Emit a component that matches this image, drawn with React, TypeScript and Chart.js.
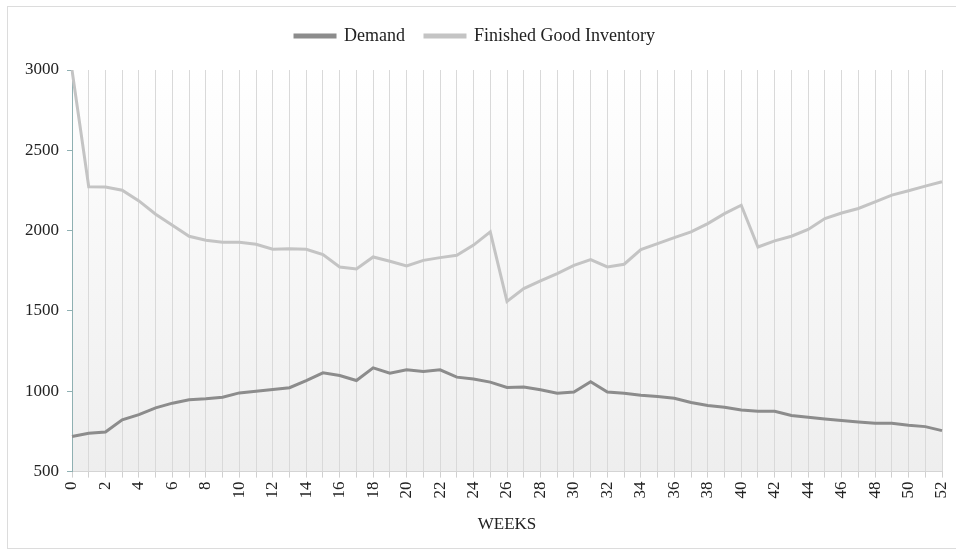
import React, { useEffect, useRef } from "react";
import { Chart, registerables } from "chart.js";

Chart.register(...registerables);

const weeks: string[] = Array.from({ length: 53 }, (_, i) => String(i));

const demand: number[] = [
  718, 739, 747, 822, 855, 897, 926, 947, 953, 963,
  990, 1000, 1011, 1022, 1067, 1115, 1098, 1067, 1146, 1113,
  1134, 1123, 1134, 1088, 1077, 1057, 1024, 1026, 1009, 988,
  996, 1060, 996, 988, 975, 967, 957, 930, 911, 901,
  884, 876, 876, 849, 838, 828, 818, 809, 801, 801,
  789, 780, 755,
];

const inventory: number[] = [
  3000, 2273, 2272, 2252, 2185, 2102, 2033, 1965, 1940, 1928,
  1928, 1915, 1884, 1888, 1884, 1851, 1774, 1761, 1836, 1809,
  1780, 1815, 1832, 1847, 1910, 1992, 1560, 1639, 1687, 1733,
  1784, 1820, 1774, 1791, 1882, 1919, 1956, 1992, 2044, 2106,
  2158, 1898, 1936, 1965, 2007, 2075, 2110, 2138, 2179, 2221,
  2248, 2277, 2304,
];

const seriesNames: string[] = ["Demand", "Finished Good Inventory"];
const yMin = 500;
const yMax = 3000;
const yStep = 500;

const FONT = "'Liberation Serif', 'Times New Roman', serif";

const bgPlugin = {
  id: "plotBg",
  beforeDraw(chart: any) {
    const { ctx, chartArea } = chart;
    if (!chartArea) return;
    const g = ctx.createLinearGradient(0, chartArea.top, 0, chartArea.bottom);
    g.addColorStop(0, "#ffffff");
    g.addColorStop(1, "#eeeeee");
    ctx.save();
    ctx.fillStyle = g;
    ctx.fillRect(chartArea.left, chartArea.top, chartArea.right - chartArea.left, chartArea.bottom - chartArea.top);
    ctx.restore();
  },
};

const legendSpace = {
  id: "legendSpace",
  beforeInit(chart: any) {
    const legend = chart.legend;
    if (!legend) return;
    const fit = legend.fit;
    legend.fit = function () {
      fit.call(legend);
      legend.height += 15;
    };
  },
};

export default function App() {
  const ref = useRef<HTMLCanvasElement | null>(null);

  useEffect(() => {
    if (!ref.current) return;
    const chart = new Chart(ref.current, {
      type: "line",
      data: {
        labels: weeks,
        datasets: [
          {
            label: seriesNames[0],
            data: demand,
            borderColor: "#8c8c8c",
            backgroundColor: "#8c8c8c",
            borderWidth: 3,
            pointRadius: 0,
            tension: 0,
            fill: false,
          },
          {
            label: seriesNames[1],
            data: inventory,
            borderColor: "#c4c4c4",
            backgroundColor: "#c4c4c4",
            borderWidth: 3,
            pointRadius: 0,
            tension: 0,
            fill: false,
          },
        ],
      },
      options: {
        animation: false,
        responsive: false,
        maintainAspectRatio: false,
        layout: { padding: { left: 0, right: 14, top: 0, bottom: 13 } },
        plugins: {
          tooltip: { enabled: false },
          legend: {
            position: "top",
            labels: {
              boxWidth: 40,
              boxHeight: 2,
              padding: 20,
              color: "#222",
              font: { family: FONT, size: 18 },
            },
          },
        },
        scales: {
          x: {
            type: "category",
            offset: false,
            afterFit: (s: any) => {
              s.paddingRight = 0;
              s.paddingLeft = 0;
            },
            grid: {
              display: true,
              color: "#d9d9d9",
              lineWidth: 1,
              drawTicks: true,
              tickLength: 6,
              tickColor: "#d0d0d0",
            },
            border: { display: true, color: "#d4d4d4" },
            ticks: {
              autoSkip: false,
              maxRotation: 90,
              minRotation: 90,
              padding: 4,
              color: "#222",
              font: { family: FONT, size: 17 },
              callback: (_v: any, i: number) => (i % 2 === 0 ? weeks[i] : ""),
            },
            title: {
              display: true,
              text: "WEEKS",
              color: "#222",
              padding: { top: 12, bottom: 0 },
              font: { family: FONT, size: 17 },
            },
          },
          y: {
            min: yMin,
            max: yMax,
            afterFit: (s: any) => {
              s.width = 64;
            },
            grid: {
              display: true,
              drawOnChartArea: false,
              drawTicks: true,
              tickLength: 5,
              tickColor: "#8fb0b2",
            },
            border: { display: true, color: "#8fb0b2" },
            ticks: {
              stepSize: yStep,
              padding: 8,
              color: "#222",
              font: { family: FONT, size: 17 },
              callback: (v: any) => String(v),
            },
          },
        },
      },
      plugins: [bgPlugin, legendSpace],
    });
    return () => chart.destroy();
  }, []);

  return (
    <div
      style={{
        position: "fixed",
        left: 7,
        top: 6,
        width: 948,
        height: 541,
        border: "1px solid #dcdcdc",
        background: "#fff",
      }}
    >
      <canvas ref={ref} width={948} height={541} style={{ display: "block" }} />
    </div>
  );
}
